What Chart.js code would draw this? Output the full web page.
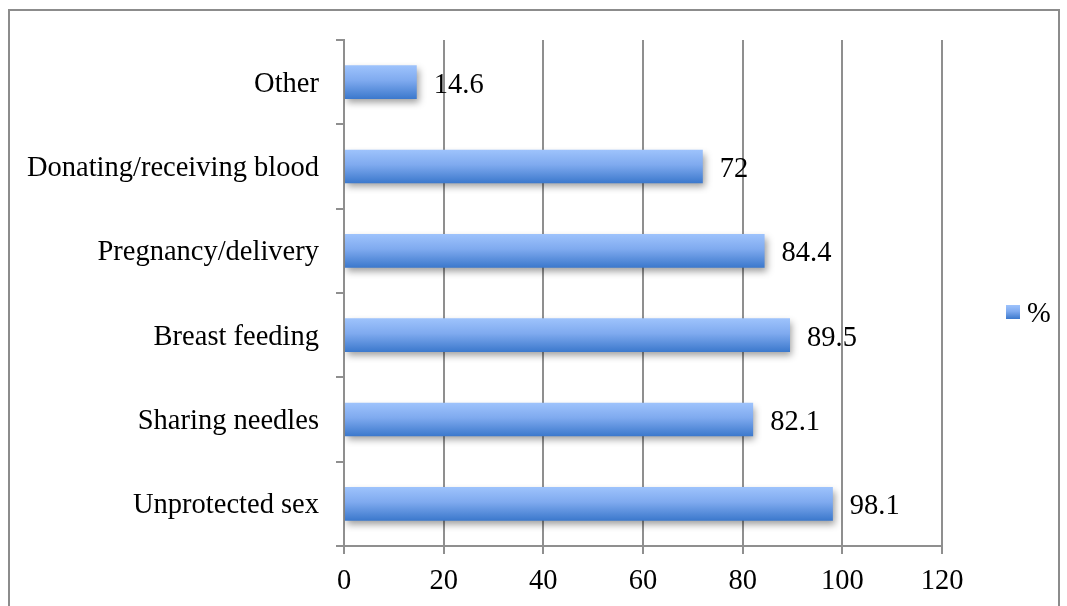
<!DOCTYPE html>
<html>
<head>
<meta charset="utf-8">
<script src="https://cdn.jsdelivr.net/npm/chart.js@4.4.1/dist/chart.umd.min.js"></script>
<style>
  html, body { margin: 0; padding: 0; background: #fff; }
  #wrap { position: relative; width: 1067px; height: 606px; }
</style>
</head>
<body>
<div id="wrap"><canvas id="c" width="1067" height="606"></canvas></div>
<script>
const categories = ['Other', 'Donating/receiving blood', 'Pregnancy/delivery', 'Breast feeding', 'Sharing needles', 'Unprotected sex'];
const percentValues = [14.6, 72, 84.4, 89.5, 82.1, 98.1];
const valueLabels = ['14.6', '72', '84.4', '89.5', '82.1', '98.1'];
const seriesName = '%';
const xTicks = [0, 20, 40, 60, 80, 100, 120];

const FONT = "'Liberation Serif', 'Times New Roman', serif";
const FSIZE = 28.5;
const GRID = '#8f8f8f';

function barGradient(ctx, top, bottom) {
  const g = ctx.createLinearGradient(0, top, 0, bottom);
  g.addColorStop(0, '#9ec3fc');
  g.addColorStop(0.45, '#7faaef');
  g.addColorStop(1, '#3b78cc');
  return g;
}

const BAR_PCT = 0.4;

const framePlugin = {
  id: 'frame',
  beforeDraw(chart) {
    const ctx = chart.ctx;
    ctx.save();
    ctx.fillStyle = '#fff';
    ctx.fillRect(0, 0, chart.width, chart.height);
    ctx.strokeStyle = '#8c8c8c';
    ctx.lineWidth = 2;
    ctx.strokeRect(9, 10, 1050, 700);
    ctx.restore();
  }
};

const shadowPlugin = {
  id: 'barShadow',
  beforeDatasetDraw(chart) {
    const ctx = chart.ctx;
    ctx.save();
    ctx.shadowColor = 'rgba(0,0,0,0.38)';
    ctx.shadowBlur = 7;
    ctx.shadowOffsetX = 2;
    ctx.shadowOffsetY = 4;
  },
  afterDatasetDraw(chart) {
    chart.ctx.restore();
  }
};

const labelPlugin = {
  id: 'valueLabels',
  afterDatasetsDraw(chart) {
    const ctx = chart.ctx;
    const meta = chart.getDatasetMeta(0);
    ctx.save();
    ctx.font = FSIZE + 'px ' + FONT;
    ctx.fillStyle = '#000';
    ctx.textAlign = 'left';
    ctx.textBaseline = 'middle';
    meta.data.forEach((el, i) => {
      ctx.fillText(valueLabels[i], el.x + 17, el.y + 3);
    });
    ctx.restore();
  }
};

const legendPlugin = {
  id: 'customLegend',
  afterDraw(chart) {
    const ctx = chart.ctx;
    ctx.save();
    const bx = 1006, by = 305, s = 14;
    ctx.fillStyle = barGradient(ctx, by, by + s);
    ctx.fillRect(bx, by, s, s);
    ctx.font = FSIZE + 'px ' + FONT;
    ctx.fillStyle = '#000';
    ctx.textAlign = 'left';
    ctx.textBaseline = 'middle';
    ctx.fillText(chart.data.datasets[0].label, 1027, 315);
    ctx.restore();
  }
};

new Chart(document.getElementById('c'), {
  type: 'bar',
  data: {
    labels: categories,
    datasets: [{
      label: seriesName,
      data: percentValues,
      borderWidth: 0,
      categoryPercentage: 1,
      barPercentage: BAR_PCT,
      backgroundColor: (c) => {
        const ch = c.chart;
        const ys = ch.scales && ch.scales.y;
        if (!ys || !ch.chartArea || c.dataIndex === undefined) return '#6f9fe8';
        const yc = ys.getPixelForValue(c.dataIndex);
        const h = (ch.chartArea.bottom - ch.chartArea.top) / categories.length * BAR_PCT;
        return barGradient(ch.ctx, yc - h / 2, yc + h / 2);
      }
    }]
  },
  options: {
    indexAxis: 'y',
    responsive: false,
    animation: false,
    devicePixelRatio: 1,
    layout: { padding: { top: 40, right: 125, bottom: 0, left: 0 } },
    plugins: {
      legend: { display: false },
      tooltip: { enabled: false }
    },
    scales: {
      x: {
        min: 0, max: 120,
        afterFit(scale) { scale.height = 60; },
        afterBuildTicks(scale) { scale.ticks = xTicks.map(v => ({ value: v })); },
        grid: { color: GRID, lineWidth: 2, tickLength: 8, drawOnChartArea: true },
        border: { display: true, color: GRID, width: 2 },
        ticks: { color: '#000', font: { family: FONT, size: FSIZE }, padding: 10 }
      },
      y: {
        afterFit(scale) { scale.width = 344; },
        grid: { color: GRID, lineWidth: 2, tickLength: 8, drawOnChartArea: false, offset: true },
        border: { display: true, color: GRID, width: 2 },
        ticks: { color: '#000', font: { family: FONT, size: FSIZE }, padding: 17, labelOffset: 2 }
      }
    }
  },
  plugins: [framePlugin, shadowPlugin, labelPlugin, legendPlugin]
});
</script>
</body>
</html>
